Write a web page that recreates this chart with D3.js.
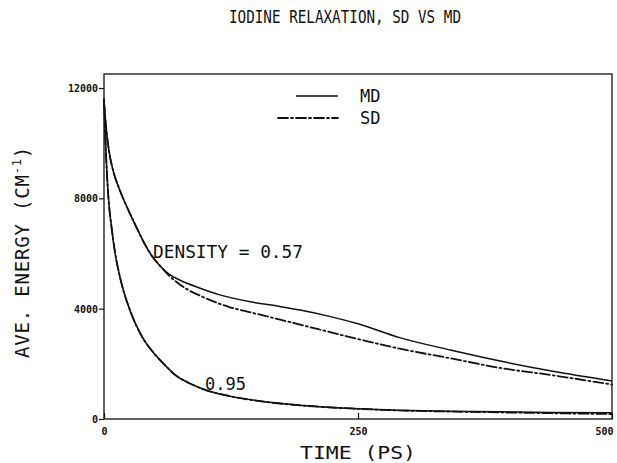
<!DOCTYPE html>
<html><head><meta charset="utf-8">
<script src="https://cdn.jsdelivr.net/npm/d3@7"></script>
<style>
body{margin:0;background:#fff;}
svg text{font-family:"DejaVu Sans Mono","Liberation Mono",monospace;fill:#111;}
</style></head>
<body>
<svg id="c" width="617" height="463"></svg>
<script>
// ---- data ----
const xTicks = [0, 250, 500];
const yTicks = [0, 4000, 8000, 12000];

const mdLowT  = [0, 1, 2, 4, 7.6, 11, 16, 26, 38, 50, 60, 70, 85, 100, 125, 155, 195, 250, 290, 340, 390, 440, 500];
const mdLowE  = [11600, 10500, 9600, 8200, 6900, 6000, 5100, 3900, 2950, 2350, 1950, 1600, 1280, 1050, 820, 640, 490, 370, 320, 285, 260, 240, 230];
const sdLowT  = [0, 1, 2, 4, 7.6, 11, 16, 26, 38, 50, 60, 70, 85, 100, 125, 155, 195, 250, 290, 340, 390, 440, 500];
const sdLowE  = [11600, 10500, 9600, 8200, 6900, 6000, 5100, 3900, 2950, 2350, 1950, 1600, 1280, 1050, 820, 640, 490, 370, 310, 270, 240, 210, 180];

const mdHighT = [0, 2, 5, 9, 15, 23, 30, 40, 47, 55, 64, 75, 94, 114, 144, 173, 193, 222, 250, 291, 341, 390, 439, 488, 500];
const mdHighE = [11500, 10600, 9700, 9000, 8350, 7650, 7100, 6350, 5920, 5560, 5250, 5030, 4750, 4500, 4250, 4080, 3950, 3720, 3450, 2950, 2500, 2100, 1750, 1450, 1380];
const sdHighT = [0, 2, 5, 9, 15, 23, 30, 40, 47, 55, 64, 72, 82, 94, 124, 144, 193, 250, 291, 341, 390, 439, 488, 500];
const sdHighE = [11500, 10600, 9700, 9000, 8350, 7650, 7100, 6350, 5920, 5560, 5200, 4950, 4700, 4480, 4050, 3870, 3420, 2900, 2550, 2200, 1850, 1600, 1320, 1250];

const titleText = "IODINE RELAXATION, SD VS MD";
const xTitle = "TIME (PS)";
const seriesNames = ["MD", "SD"];
const annotations = ["DENSITY = 0.57", "0.95"];

// ---- layout ----
const svg = d3.select("#c");
const L = 104, R = 612, T = 74, B = 419;
const x = d3.scaleLinear().domain([0, 500]).range([L, R]);
const y = d3.scaleLinear().domain([0, 12000 * (B - T) / (B - 88)]).range([B, T]);

// frame
svg.append("rect").attr("x", L).attr("y", T).attr("width", R - L).attr("height", B - T)
  .attr("fill", "none").attr("stroke", "#111").attr("stroke-width", 1.3);

// y axis ticks
const gy = svg.append("g").attr("transform", `translate(${L},0)`)
  .call(d3.axisLeft(y).tickValues(yTicks).tickSize(5).tickSizeOuter(0).tickFormat(d3.format("d")));
gy.select(".domain").remove();
gy.selectAll("line").attr("stroke", "#111").attr("stroke-width", 1.2);
gy.selectAll("text").attr("font-size", 10).attr("font-weight", "bold").attr("x", -6).attr("dy", "0.35em");

// x axis ticks (inward)
const gx = svg.append("g").attr("transform", `translate(0,${B})`)
  .call(d3.axisBottom(x).tickValues(xTicks).tickSize(-6).tickSizeOuter(0).tickFormat(d3.format("d")));
gx.select(".domain").remove();
gx.selectAll("line").attr("stroke", "#111").attr("stroke-width", 1.2);
gx.selectAll("text").attr("font-size", 10).attr("font-weight", "bold").attr("y", 9);
gx.selectAll(".tick").filter(d => d === 500).select("text").attr("text-anchor", "end").attr("x", 1);

// titles
svg.append("text").attr("x", 345).attr("y", 23).attr("text-anchor", "middle")
  .attr("font-size", 18).attr("textLength", 232).attr("lengthAdjust", "spacingAndGlyphs").text(titleText);
svg.append("text").attr("x", 358).attr("y", 459).attr("text-anchor", "middle")
  .attr("font-size", 18).attr("textLength", 116).attr("lengthAdjust", "spacingAndGlyphs").text(xTitle);
const yt = svg.append("text").attr("transform", "translate(29,252) rotate(-90)")
  .attr("text-anchor", "middle").attr("font-size", 19).attr("letter-spacing", 0.8);
yt.append("tspan").text("AVE. ENERGY (CM");
yt.append("tspan").attr("font-size", 12).attr("dy", -8).text("-1");
yt.append("tspan").attr("dy", 8).text(")");

// curves
const line = (T_, E_) => d3.line().x((d, i) => x(T_[i])).y(d => y(d)).curve(d3.curveMonotoneX)(E_);
const solid = {stroke: "#111", "stroke-width": 1.5, fill: "none"};
const dashed = {stroke: "#111", "stroke-width": 1.8, fill: "none", "stroke-dasharray": "10,3,2,3", "stroke-linecap": "round"};
function addPath(T_, E_, st) {
  const p = svg.append("path").attr("d", line(T_, E_));
  Object.entries(st).forEach(([k, v]) => p.attr(k, v));
}
addPath(mdHighT, mdHighE, solid);
addPath(sdHighT, sdHighE, dashed);
addPath(mdLowT, mdLowE, solid);
addPath(sdLowT, sdLowE, dashed);

// legend
const lg = [{y: 96, st: solid, x0: 296}, {y: 118, st: dashed, x0: 278}];
lg.forEach((d, i) => {
  const l = svg.append("line").attr("x1", d.x0).attr("x2", 338).attr("y1", d.y).attr("y2", d.y);
  Object.entries(d.st).forEach(([k, v]) => l.attr(k, v));
  svg.append("text").attr("x", 360).attr("y", d.y + 6).attr("font-size", 17).text(seriesNames[i]);
});

// annotations
svg.append("text").attr("x", 153).attr("y", 258).attr("font-size", 17)
  .attr("textLength", 150).attr("lengthAdjust", "spacingAndGlyphs").text(annotations[0]);
svg.append("text").attr("x", 205).attr("y", 390).attr("font-size", 17).text(annotations[1]);
</script>
</body></html>
